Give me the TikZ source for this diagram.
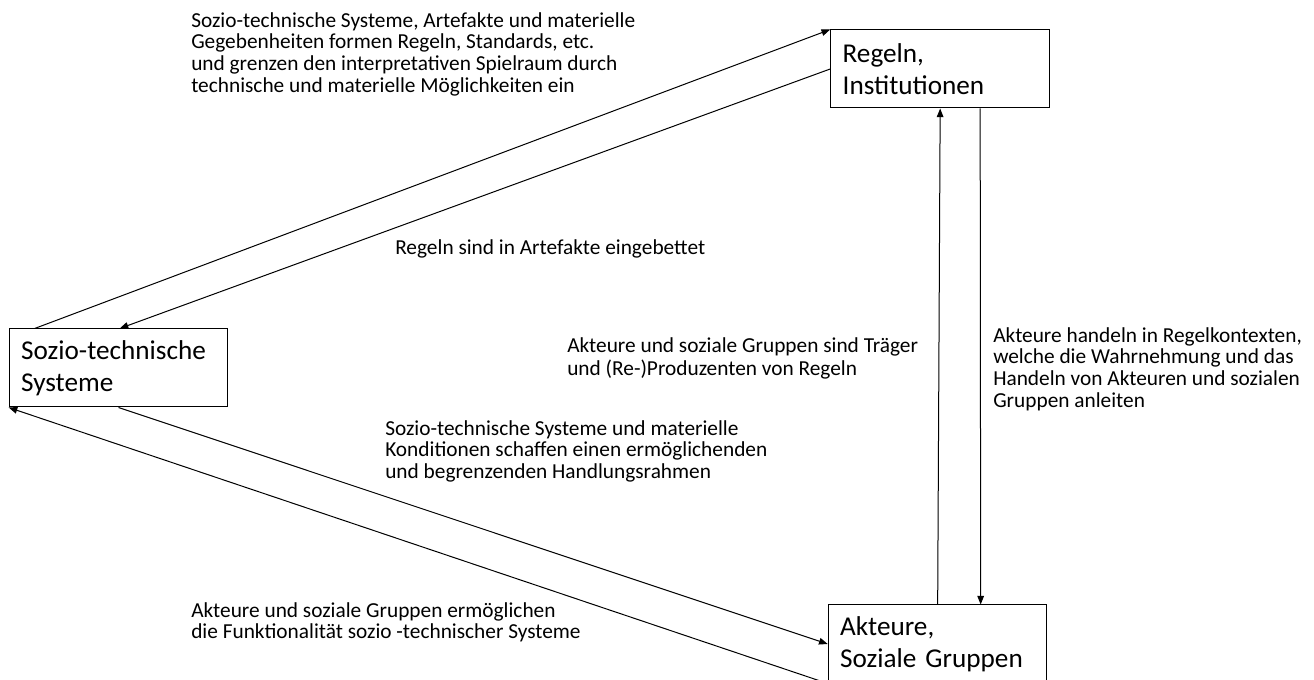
\documentclass[tikz,border=0pt]{standalone}
\usepackage{fontspec}
\setmainfont{Carlito}
\usetikzlibrary{arrows.meta,calc}
\begin{document}
\begin{tikzpicture}[x=0.75pt,y=-0.75pt,
  box/.style={draw=black,line width=0.75pt,rectangle,inner xsep=9pt,inner ysep=0pt,text width=146pt,minimum height=58.5pt,align=left,font=\fontsize{20.4}{24}\selectfont},
  note/.style={anchor=north west,inner sep=0pt,align=left,font=\fontsize{16}{16.3}\selectfont},
  conn/.style={line width=0.75pt,-{Triangle[length=6.5pt,width=5pt]}}
]
\useasboundingbox (0,0) rectangle (1314,680);
\node[box] (reg) at (940,69) {Regeln,\\Institutionen};
\node[box] (soz) at (118.5,368) {Sozio-technische\\Systeme};
\node[box] (akt) at (937.5,644) {Akteure,\\Soziale Gruppen};

\node[note] (n1) at (191,11.6) {\strut Sozio-technische Systeme, Artefakte und materielle\\Gegebenheiten formen Regeln, Standards, etc.\\und grenzen den interpretativen Spielraum durch\\technische und materielle Möglichkeiten ein};
\node[note] (n2) at (395,238.6) {\strut Regeln sind in Artefakte eingebettet};
\node[note] (n3) at (567,336.6) {\strut Akteure und soziale Gruppen sind Träger\\und (Re-)Produzenten von Regeln};
\node[note] (n4) at (993,326.6) {\strut Akteure handeln in Regelkontexten,\\welche die Wahrnehmung und das\\Handeln von Akteuren und sozialen\\Gruppen anleiten};
\node[note] (n5) at (385,419.6) {\strut Sozio-technische Systeme und materielle\\Konditionen schaffen einen ermöglichenden\\und begrenzenden Handlungsrahmen};
\node[note] (n6) at (191,601.6) {\strut Akteure und soziale Gruppen ermöglichen\\die Funktionalität sozio -technischer Systeme};

\draw[conn] ($(soz.north west)+(26,0)$) -- (reg.north west);
\draw[conn] (reg.west) -- ($(soz.north west)+(111,0)$);
\draw[conn] (soz.south) -- (akt.west);
\draw[conn] (akt.south west) -- (soz.south west);
\draw[conn] ($(akt.north west)+(110,0)$) -- ($(reg.south west)+(110,0)$);
\draw[conn] ($(reg.south west)+(150,0)$) -- ($(akt.north west)+(153,0)$);
\end{tikzpicture}
\end{document}
